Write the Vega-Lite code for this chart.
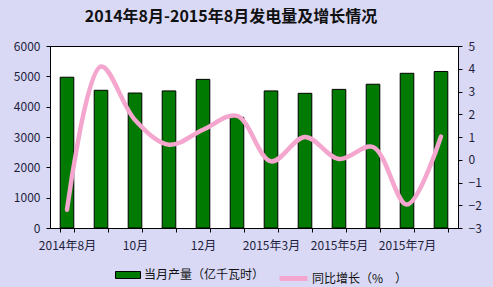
{
  "$schema": "https://vega.github.io/schema/vega-lite/v6.json",
  "width": 408,
  "height": 182,
  "autosize": {"type": "none"},
  "padding": {"left": 50, "top": 46, "right": 35, "bottom": 59},
  "background": "#D9D9F6",
  "title": {
    "text": "2014年8月-2015年8月发电量及增长情况",
    "font": "Noto Sans CJK SC",
    "fontSize": 16,
    "fontWeight": "bold",
    "color": "#111111",
    "anchor": "middle",
    "dx": -23,
    "offset": 15
  },
  "config": {
    "view": {"stroke": "#000000", "strokeWidth": 1, "fill": "#FFFFFF"},
    "axis": {
      "labelFont": "Noto Sans CJK SC",
      "labelFontSize": 12,
      "labelColor": "#1E1E3C",
      "domainColor": "#000000",
      "tickColor": "#000000",
      "tickSize": 4,
      "grid": false,
      "title": null
    },
    "legend": {
      "labelFont": "Noto Sans CJK SC",
      "labelFontSize": 12,
      "labelColor": "#111111",
      "title": null
    }
  },
  "data": {
    "values": [
      {"month": "2014年8月", "output": 4970, "growth": -2.2},
      {"month": "2014年9月", "output": 4540, "growth": 4.1},
      {"month": "2014年10月", "output": 4450, "growth": 1.75},
      {"month": "2014年11月", "output": 4520, "growth": 0.66},
      {"month": "2014年12月", "output": 4900, "growth": 1.32},
      {"month": "2015年1-2月", "output": 3650, "growth": 1.93},
      {"month": "2015年3月", "output": 4520, "growth": -0.07},
      {"month": "2015年4月", "output": 4440, "growth": 1.0},
      {"month": "2015年5月", "output": 4570, "growth": 0.03},
      {"month": "2015年6月", "output": 4740, "growth": 0.56},
      {"month": "2015年7月", "output": 5100, "growth": -1.97},
      {"month": "2015年8月", "output": 5160, "growth": 1.02}
    ]
  },
  "encoding": {
    "x": {
      "field": "month",
      "type": "nominal",
      "sort": null,
      "scale": {"paddingInner": 0.6, "paddingOuter": 0.3},
      "axis": {
        "labelAngle": 0,
        "labelOverlap": false,
        "tickBand": "extent",
        "labelPadding": 8,
        "labelExpr": "datum.value == '2014年10月' ? '10月' : datum.value == '2014年12月' ? '12月' : (datum.value == '2014年8月' || datum.value == '2015年3月' || datum.value == '2015年5月' || datum.value == '2015年7月') ? datum.value : ''"
      }
    }
  },
  "layer": [
    {
      "mark": {"type": "bar", "stroke": "#000000", "strokeWidth": 1},
      "encoding": {
        "y": {
          "field": "output",
          "type": "quantitative",
          "scale": {"domain": [0, 6000], "nice": false},
          "axis": {"values": [0, 1000, 2000, 3000, 4000, 5000, 6000], "format": "d", "labelPadding": 6}
        },
        "fill": {
          "datum": "当月产量（亿千瓦时）",
          "type": "nominal",
          "scale": {"range": ["#007A00"]},
          "legend": {
            "orient": "none",
            "legendX": 65,
            "legendY": 216,
            "symbolType": "M-1,-0.28H1V0.28H-1Z",
            "symbolSize": 625,
            "symbolStrokeColor": "#000000",
            "symbolStrokeWidth": 1,
            "labelOffset": 3
          }
        }
      }
    },
    {
      "mark": {"type": "line", "interpolate": "catmull-rom", "strokeWidth": 4.5, "strokeCap": "round"},
      "encoding": {
        "y": {
          "field": "growth",
          "type": "quantitative",
          "scale": {"domain": [-3, 5], "nice": false},
          "axis": {"orient": "right", "values": [-3, -2, -1, 0, 1, 2, 3, 4, 5], "labelPadding": 6}
        },
        "stroke": {
          "datum": "同比增长（%　）",
          "type": "nominal",
          "scale": {"range": ["#F4A6CE"]},
          "legend": {
            "orient": "none",
            "legendX": 227,
            "legendY": 216,
            "symbolType": "stroke",
            "symbolSize": 784,
            "symbolStrokeWidth": 5,
            "labelOffset": 2
          }
        }
      }
    }
  ],
  "resolve": {"scale": {"y": "independent"}}
}
